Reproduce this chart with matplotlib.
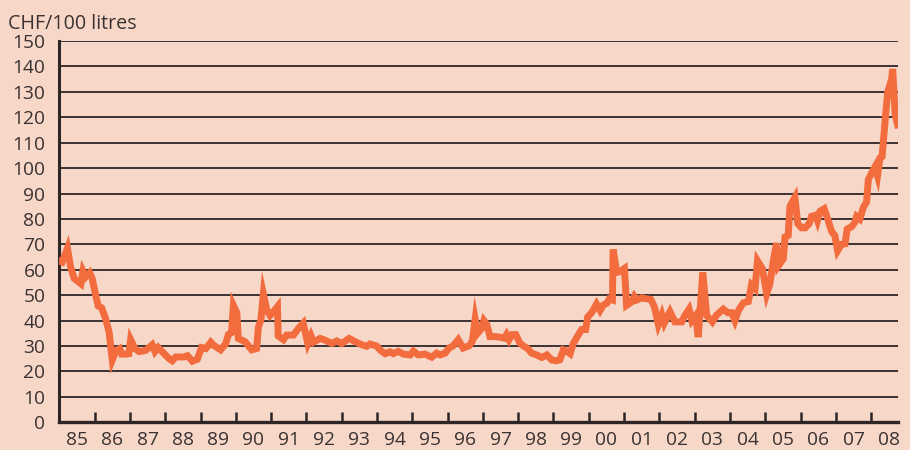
import matplotlib.pyplot as plt
import numpy as np

# price readings (decimal year, CHF per 100 litres)
years = [
    1985.00, 1985.08, 1985.23, 1985.32, 1985.42, 1985.61, 1985.67, 1985.75, 1985.86, 1985.93,
    1986.03, 1986.10, 1986.20, 1986.31, 1986.41, 1986.50, 1986.61, 1986.71, 1986.77, 1986.88,
    1986.97, 1987.02, 1987.14, 1987.26, 1987.45, 1987.63, 1987.71, 1987.80, 1987.97, 1988.11,
    1988.20, 1988.30, 1988.53, 1988.63, 1988.77, 1988.91, 1989.03, 1989.15, 1989.29, 1989.38,
    1989.57, 1989.71, 1989.79, 1989.88, 1989.93, 1990.03, 1990.07, 1990.26, 1990.45, 1990.59,
    1990.64, 1990.71, 1990.78, 1990.88, 1990.97, 1991.06, 1991.18, 1991.20, 1991.35, 1991.44,
    1991.63, 1991.77, 1991.91, 1992.04, 1992.13, 1992.20, 1992.39, 1992.53, 1992.72, 1992.86,
    1993.00, 1993.21, 1993.38, 1993.57, 1993.71, 1993.80, 1993.99, 1994.09, 1994.23, 1994.37,
    1994.46, 1994.60, 1994.75, 1994.94, 1995.03, 1995.17, 1995.36, 1995.55, 1995.69, 1995.79,
    1995.93, 1996.04, 1996.16, 1996.30, 1996.44, 1996.61, 1996.70, 1996.78, 1996.85, 1996.97,
    1997.03, 1997.11, 1997.20, 1997.34, 1997.48, 1997.61, 1997.67, 1997.74, 1997.82, 1997.93,
    1998.05, 1998.14, 1998.27, 1998.38, 1998.52, 1998.67, 1998.81, 1998.95, 1999.09, 1999.18,
    1999.28, 1999.37, 1999.47, 1999.56, 1999.70, 1999.80, 1999.91, 1999.97, 2000.08, 2000.22,
    2000.32, 2000.41, 2000.51, 2000.58, 2000.67, 2000.69, 2000.79, 2000.88, 2001.01, 2001.07,
    2001.22, 2001.29, 2001.36, 2001.50, 2001.59, 2001.76, 2001.86, 2001.97, 2002.07, 2002.14,
    2002.30, 2002.44, 2002.63, 2002.73, 2002.84, 2002.92, 2003.03, 2003.10, 2003.23, 2003.34,
    2003.50, 2003.62, 2003.81, 2003.94, 2004.05, 2004.14, 2004.24, 2004.38, 2004.52, 2004.61,
    2004.71, 2004.78, 2004.92, 2005.04, 2005.13, 2005.23, 2005.32, 2005.37, 2005.51, 2005.56,
    2005.65, 2005.70, 2005.84, 2005.92, 2006.03, 2006.13, 2006.24, 2006.31, 2006.43, 2006.48,
    2006.55, 2006.67, 2006.79, 2006.88, 2006.97, 2007.05, 2007.16, 2007.26, 2007.32, 2007.45,
    2007.54, 2007.59, 2007.68, 2007.78, 2007.87, 2007.92, 2008.03, 2008.11, 2008.18, 2008.25,
    2008.31, 2008.41, 2008.47, 2008.58, 2008.61, 2008.68, 2008.75,
]
prices = [
    63.4, 63.0, 68.5, 61.0, 56.6, 54.5, 59.5, 57.2, 58.8, 56.6,
    50.0, 45.8, 45.0, 40.8, 35.5, 24.5, 28.3, 29.0, 26.8, 26.8,
    27.0, 32.5, 29.0, 27.8, 28.3, 30.5, 27.8, 29.4, 27.0, 25.0,
    24.2, 25.7, 25.7, 26.2, 24.0, 24.8, 29.4, 29.0, 31.5, 30.2,
    28.5, 30.8, 34.5, 35.3, 46.0, 43.0, 33.0, 31.7, 28.5, 29.0,
    37.5, 40.2, 50.5, 44.0, 42.0, 43.4, 45.5, 34.0, 32.5, 34.3,
    34.3, 36.9, 39.0, 31.0, 34.0, 31.5, 33.0, 32.3, 31.0, 32.0,
    31.0, 33.0, 31.7, 30.5, 29.9, 30.8, 30.0, 28.4, 27.0, 27.7,
    27.0, 27.9, 26.8, 26.5, 28.0, 26.5, 26.8, 25.6, 27.2, 26.5,
    27.2, 29.2, 30.1, 32.5, 29.2, 30.1, 31.8, 40.5, 35.0, 37.0,
    40.0, 38.5, 33.7, 33.7, 33.5, 33.1, 34.5, 32.5, 34.5, 34.5,
    31.1, 30.1, 29.0, 27.2, 26.5, 25.5, 26.5, 24.5, 24.2, 24.6,
    28.5, 28.0, 27.0, 31.0, 34.3, 36.5, 36.5, 41.5, 43.1, 46.5,
    44.0, 46.1, 46.8, 48.5, 48.1, 68.0, 59.0, 59.2, 60.5, 46.0,
    47.4, 49.5, 48.1, 49.0, 48.7, 48.3, 45.4, 38.5, 42.3, 39.0,
    43.5, 39.5, 39.5, 42.2, 44.5, 40.0, 42.0, 33.5, 59.0, 42.0,
    39.5, 42.2, 44.5, 43.1, 43.1, 40.0, 44.0, 47.0, 47.5, 54.0,
    52.6, 63.5, 60.4, 50.5, 54.5, 63.7, 70.5, 61.5, 64.3, 72.9,
    73.5, 85.0, 88.5, 78.1, 76.5, 76.5, 78.1, 81.0, 81.5, 79.4,
    83.0, 84.0, 79.0, 75.0, 73.5, 67.5, 70.0, 70.2, 76.0, 77.0,
    78.7, 81.0, 80.0, 84.6, 86.6, 95.5, 98.5, 100.5, 97.0, 104.0,
    104.5, 121.0, 130.0, 135.0, 139.0, 121.0, 117.0,
]

y_ticks = np.arange(0, 151, 10)
year_labels = ["85", "86", "87", "88", "89", "90", "91", "92", "93", "94", "95", "96",
               "97", "98", "99", "00", "01", "02", "03", "04", "05", "06", "07", "08"]

BG = "#f7d7c8"
LINE = "#f26c3e"
DARK = "#2e2626"
GRID = "#3b3232"
TEXT = "#3a3232"


def main():
    plt.rcParams["font.family"] = ["Open Sans", "DejaVu Sans"]

    fig = plt.figure(figsize=(9.1, 4.5), dpi=100, facecolor=BG)
    ax = fig.add_axes([0.0652, 0.0616, 0.9216, 0.8473], facecolor=BG)

    # horizontal grid
    for v in y_ticks[1:]:
        ax.axhline(v, color=GRID, lw=1.4, zorder=1)

    ax.plot(years, prices, color=LINE, lw=5.0, solid_joinstyle="miter", zorder=3)

    ax.set_xlim(1985.0, 2008.76)
    ax.set_ylim(0, 150)

    # y axis
    ax.set_yticks(y_ticks)
    ax.tick_params(axis="y", length=0, pad=10, labelsize=13.8, labelcolor=TEXT)

    # x axis: labels mid-year, tick marks at year boundaries
    ax.set_xticks(np.arange(1985.5, 2008.6, 1.0), year_labels)
    ax.set_xticks(np.arange(1986, 2009, 1), minor=True)
    ax.tick_params(axis="x", which="major", length=0, pad=6, labelsize=13.8, labelcolor=TEXT)
    ax.tick_params(axis="x", which="minor", direction="in", length=7, width=1.8, color=DARK)

    for s in ("top", "right"):
        ax.spines[s].set_visible(False)
    ax.spines["left"].set_linewidth(2.2)
    ax.spines["bottom"].set_linewidth(2.4)
    ax.spines["left"].set_color(DARK)
    ax.spines["bottom"].set_color(DARK)
    ax.spines["bottom"].set_zorder(4)

    fig.text(0.009, 0.947, "CHF/100 litres", fontsize=14.2, color=TEXT, va="center", ha="left")

    fig.savefig("out.png", dpi=100, facecolor=BG)


if __name__ == "__main__":
    main()
